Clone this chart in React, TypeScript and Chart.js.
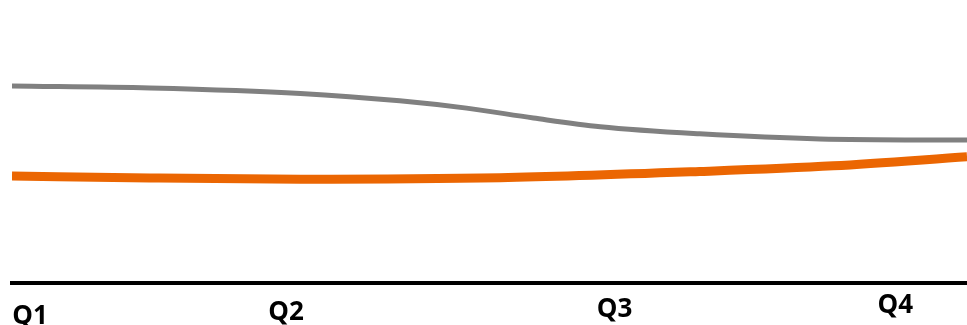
import React, { useEffect, useRef } from "react";
import { Chart, registerables } from "chart.js";

Chart.register(...registerables);

// Quarter labels and their positions along the x axis (0–100 progress scale)
const quarterLabels = ["Q1", "Q2", "Q3", "Q4"];
const quarterPos = [1.9, 28.7, 63.1, 92.5];

// Sampled curve positions (x) and values (y) for each series
const grayX = [0, 14.45, 30.2, 40.6, 47.6, 54.6, 61.6, 72.0, 84.6, 100];
const grayY = [69.6, 68.9, 67.0, 64.4, 61.8, 58.3, 55.2, 52.7, 50.9, 50.5];

const orangeX = [0, 14.45, 30.2, 51.1, 72.0, 86.0, 100];
const orangeY = [37.8, 37.1, 36.7, 37.2, 39.4, 41.4, 44.6];

const labelOffsets = [41, 37, 34, 30];

const quarterLabelPlugin = {
  id: "quarterLabels",
  afterDraw(chart: any) {
    const { ctx, scales, chartArea } = chart;
    const xs = scales.x;
    ctx.save();
    ctx.font = "bold 26px 'Open Sans'";
    ctx.fillStyle = "#000000";
    ctx.textAlign = "center";
    ctx.textBaseline = "alphabetic";
    quarterLabels.forEach((lab, i) => {
      const px = xs.getPixelForValue(quarterPos[i]);
      ctx.fillText(lab, px, chartArea.bottom + labelOffsets[i]);
    });
    ctx.restore();
  },
};

export default function App() {
  const ref = useRef<HTMLCanvasElement | null>(null);
  useEffect(() => {
    if (!ref.current) return;
    const chart = new Chart(ref.current, {
      type: "line",
      data: {
        datasets: [
          {
            label: "Series 1",
            data: grayX.map((x, i) => ({ x, y: grayY[i] })),
            borderColor: "#808080",
            borderWidth: 5,
            pointRadius: 0,
            cubicInterpolationMode: "monotone",
            fill: false,
          },
          {
            label: "Series 2",
            data: orangeX.map((x, i) => ({ x, y: orangeY[i] })),
            borderColor: "#EB6602",
            borderWidth: 9,
            pointRadius: 0,
            cubicInterpolationMode: "monotone",
            fill: false,
          },
        ],
      },
      options: {
        animation: false,
        responsive: true,
        maintainAspectRatio: false,
        layout: { padding: { left: 12, right: 0, top: 0, bottom: 42 } },
        plugins: {
          legend: { display: false },
          tooltip: { enabled: false },
        },
        scales: {
          x: {
            type: "linear",
            min: 0,
            max: 100,
            grid: { display: false, drawTicks: false },
            border: { display: true, color: "#000000", width: 4 },
            ticks: { display: false },
          },
          y: {
            min: 0,
            max: 100,
            display: false,
          },
        },
      },
      plugins: [quarterLabelPlugin],
    });
    return () => chart.destroy();
  }, []);
  return (
    <div style={{ position: "absolute", left: 0, top: 0, width: 967, height: 325 }}>
      <canvas ref={ref} />
    </div>
  );
}
